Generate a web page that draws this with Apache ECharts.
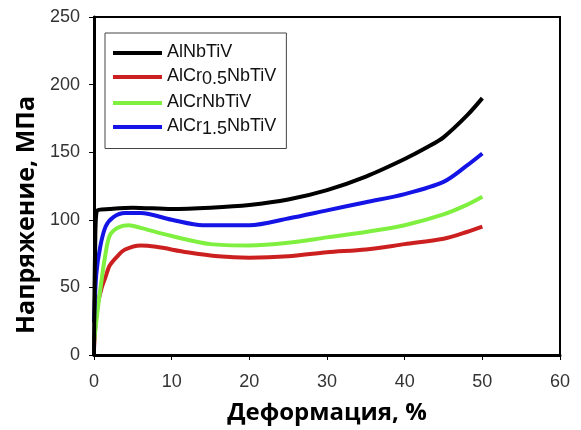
<!DOCTYPE html>
<html>
<head>
<meta charset="utf-8">
<script src="https://cdn.jsdelivr.net/npm/echarts@6/dist/echarts.min.js"></script>
<style>html,body{margin:0;padding:0;background:#fff;}#c{width:581px;height:430px;}</style>
</head>
<body>
<div id="c"></div>
<script>
// Series names
const names = ['AlNbTiV', 'AlCr0.5NbTiV', 'AlCrNbTiV', 'AlCr1.5NbTiV'];
// Strain (%) and stress (MPa) values
const strainA = [0, 0.15, 0.4, 2, 5, 10, 15, 20, 25, 30, 35, 40, 43, 45, 48, 50];
const stressA = [0, 80, 107, 108, 109, 108, 109, 111, 115, 122, 132, 145, 154, 161, 177, 190];
const strainB = [0, 0.4, 1, 1.5, 2, 3, 4, 6, 8, 12, 16, 20, 25, 30, 35, 40, 45, 48, 50];
const stressB = [5, 35, 50, 58, 66, 73, 78, 81, 80, 76, 73, 72, 73, 76, 78, 82, 86, 91, 95];
const strainC = [0, 0.4, 0.8, 1.4, 2, 3, 4.5, 6, 10, 15, 20, 25, 30, 35, 40, 45, 48, 50];
const stressC = [9, 30, 48, 72, 88, 94, 96, 94, 88, 82, 81, 83, 87, 91, 96, 104, 111, 117];
const strainD = [0, 0.3, 0.8, 1.5, 2.5, 4, 6, 10, 14, 20, 25, 30, 35, 40, 45, 48, 50];
const stressD = [24, 60, 80, 95, 102, 105, 105, 100, 96, 96, 101, 107, 113, 119, 128, 140, 149];
// Tick settings
const xTicks = [0, 10, 20, 30, 40, 50, 60];
const yTicks = [0, 50, 100, 150, 200, 250];

const colors = ['#000000', '#cc2020', '#80f040', '#1414e6'];
const pairs = [[strainA, stressA], [strainB, stressB], [strainC, stressC], [strainD, stressD]];
const seriesOrder = [1, 2, 3, 0];

const chart = echarts.init(document.getElementById('c'));
chart.setOption({
  animation: false,
  backgroundColor: '#fff',
  grid: { left: 94, right: 21, top: 17, bottom: 75, show: true, borderColor: '#000', borderWidth: 2 },
  legend: {
    orient: 'vertical', left: 105, top: 33,
    padding: [10, 10, 10, 8],
    borderColor: '#444', borderWidth: 1,
    itemWidth: 49, itemHeight: 4, itemGap: 4.5,
    icon: 'rect',
    data: names,
    formatter: function (n) {
      if (n === 'AlCr0.5NbTiV') return '{n|AlCr}{s|0.5}{n|NbTiV}';
      if (n === 'AlCr1.5NbTiV') return '{n|AlCr}{s|1.5}{n|NbTiV}';
      return '{n|' + n + '}';
    },
    textStyle: {
      fontFamily: 'Liberation Sans', fontSize: 18, color: '#111',
      rich: {
        n: { fontFamily: 'Liberation Sans', fontSize: 18, color: '#111', lineHeight: 20, verticalAlign: 'top' },
        s: { fontFamily: 'Liberation Sans', fontSize: 18, color: '#111', lineHeight: 20, padding: [5, 0, 0, 0] }
      }
    }
  },
  xAxis: {
    type: 'value', min: xTicks[0], max: xTicks[xTicks.length - 1], interval: 10,
    name: 'Деформация, %', nameLocation: 'middle', nameGap: 46,
    nameTextStyle: { fontFamily: 'Open Sans', fontWeight: 'bold', fontSize: 24, color: '#000' },
    axisLine: { lineStyle: { color: '#000', width: 3 } },
    axisTick: { show: true, length: 5, lineStyle: { color: '#000', width: 1 } },
    axisLabel: { fontFamily: 'Liberation Sans', fontSize: 18, color: '#333', margin: 18 },
    splitLine: { show: false }
  },
  yAxis: {
    type: 'value', min: yTicks[0], max: yTicks[yTicks.length - 1], interval: 50,
    name: 'Напряжение, МПа', nameLocation: 'middle', nameGap: 55,
    nameTextStyle: { fontFamily: 'Open Sans', fontWeight: 'bold', fontSize: 25, color: '#000', padding: [0, 58, 0, 0] },
    axisLine: { lineStyle: { color: '#000', width: 3 } },
    axisTick: { show: true, length: 5, lineStyle: { color: '#000', width: 1 } },
    axisLabel: { fontFamily: 'Liberation Sans', fontSize: 18, color: '#333', margin: 14 },
    splitLine: { show: false }
  },
  series: seriesOrder.map(function (i) {
    return {
      name: names[i], type: 'line', showSymbol: false, smooth: 0.3,
      data: pairs[i][0].map(function (x, k) { return [x, pairs[i][1][k]]; }),
      lineStyle: { color: colors[i], width: 4 },
      itemStyle: { color: colors[i] },
      z: i === 0 ? 5 : 3
    };
  })
});
</script>
</body>
</html>
